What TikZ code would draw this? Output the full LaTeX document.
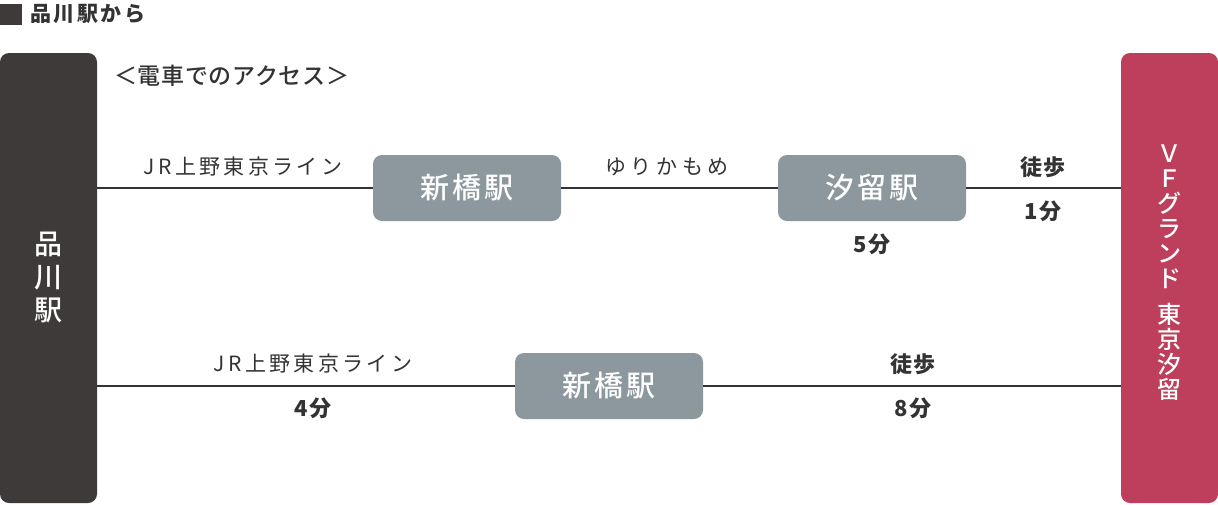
\documentclass[tikz,border=0pt]{standalone}
\usepackage{fontspec}
\setmainfont{Noto Sans CJK JP}
\IfFontExistsTF{Noto Sans CJK JP Medium}
  {\newfontfamily\medfont{Noto Sans CJK JP Medium}}
  {\newcommand{\medfont}{\normalfont}}
\definecolor{darkbox}{HTML}{3D3A39}
\definecolor{redbox}{HTML}{BD3F5B}
\definecolor{stngray}{HTML}{8C989E}
\definecolor{txt}{HTML}{333333}
\newcommand{\ls}[1]{\addfontfeature{LetterSpace=#1}}
\tikzset{
  sidebox/.style={fill=#1, rounded corners=9pt, minimum width=97pt, minimum height=450pt, inner sep=0pt},
  stn/.style={fill=stngray, rounded corners=9pt, minimum width=188pt, minimum height=66pt, inner sep=0pt,
    text=white, font=\medfont\fontsize{29}{31}\selectfont\ls{12}},
  lbl/.style={text=txt, inner sep=0pt, font=\fontsize{21}{23}\selectfont\ls{16}},
  blbl/.style={text=txt, inner sep=0pt, font=\fontsize{22}{24}\selectfont\bfseries\ls{8}},
  route/.style={draw=txt, line width=2pt},
  vtext/.style={text=white, align=center, inner sep=0pt},
}
\begin{document}
\begin{tikzpicture}[x=1pt,y=-1pt]
\useasboundingbox (0,0) rectangle (1218,504);
% title
\fill[darkbox] (0,4) rectangle (22,25);
\node[text=txt, inner sep=0pt, anchor=west, font=\fontsize{21}{23}\selectfont\bfseries\ls{12}] (title) at (30,14) {品川駅から};
\node[text=txt, inner sep=0pt, anchor=west, font=\medfont\fontsize{23}{25}\selectfont\ls{3}] (sub) at (114,76) {＜電車でのアクセス＞};
% side boxes
\node[sidebox=darkbox] (L) at (48.5,278) {};
\node[vtext, font=\medfont\fontsize{28}{33}\selectfont] (Ltext) at (48.5,277) {品\\川\\駅};
\node[sidebox=redbox] (R) at (1169.5,278) {};
\node[vtext, font=\medfont\fontsize{24}{25}\selectfont] (Rtext) at (1169.5,273) {Ｖ\\Ｆ\\グ\\ラ\\ン\\ド\\[11pt]東\\京\\汐\\留};
% stations
\node[stn] (S1) at (467,188) {新橋駅};
\node[stn] (S2) at (872,188) {汐留駅};
\node[stn] (S3) at (609,386) {新橋駅};
% routes
\draw[route] (L.east |- S1.west) -- (S1.west);
\draw[route] (S1.east) -- (S2.west);
\draw[route] (S2.east) -- (R.west |- S2.east);
\draw[route] (L.east |- S3.west) -- (S3.west);
\draw[route] (S3.east) -- (R.west |- S3.east);
% labels
\node[lbl] (l1) at (243,167) {JR上野東京ライン};
\node[lbl, font=\fontsize{21}{23}\selectfont\ls{22}] (l2) at (667,167) {ゆりかもめ};
\node[blbl] (l3) at (1043,167) {徒歩};
\node[blbl] (l4) at (1043,211) {1分};
\node[blbl] (l5) at (872,244) {5分};
\node[lbl] (l6) at (313,364) {JR上野東京ライン};
\node[blbl] (l7) at (313,408) {4分};
\node[blbl] (l8) at (913,364) {徒歩};
\node[blbl] (l9) at (913,408) {8分};
\end{tikzpicture}
\end{document}
